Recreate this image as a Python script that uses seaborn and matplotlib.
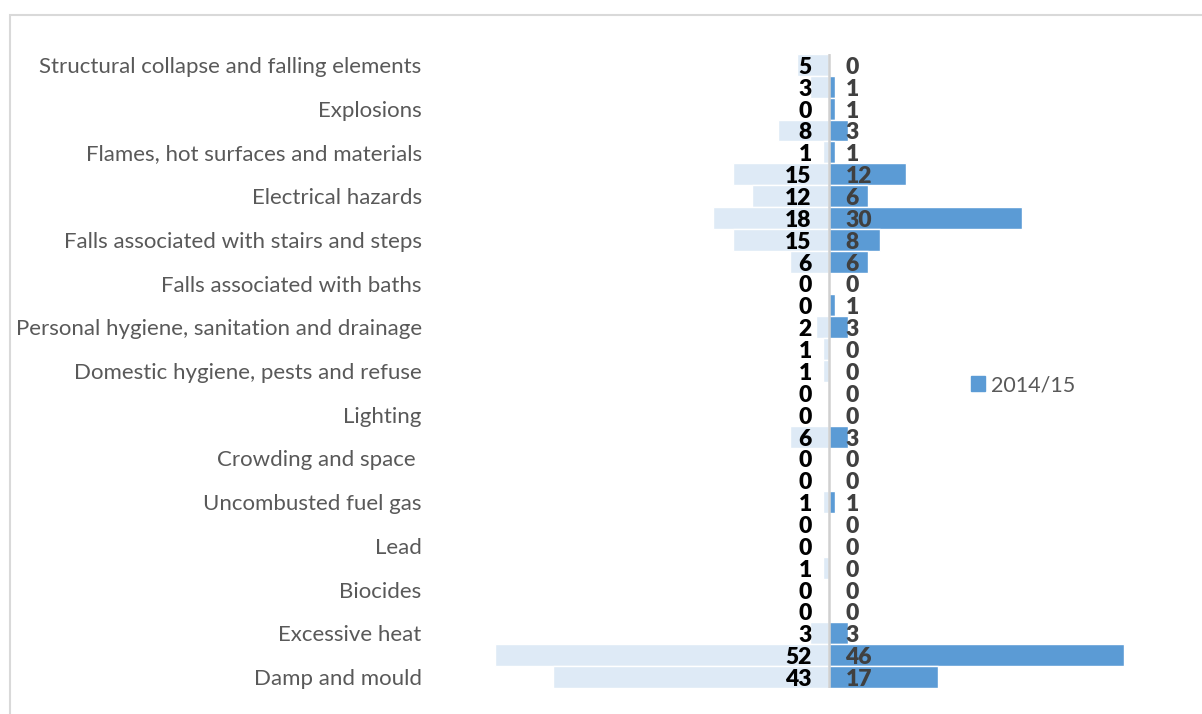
import seaborn as sns
import matplotlib.pyplot as plt
import pandas as pd
from matplotlib.patches import Patch, Rectangle

categories = [
    "Structural collapse and falling elements",
    "Position and operability of amenities",
    "Explosions",
    "Collision and entrapment",
    "Flames, hot surfaces and materials",
    "Fire",
    "Electrical hazards",
    "Falls between levels",
    "Falls associated with stairs and steps",
    "Falls on level surfaces",
    "Falls associated with baths",
    "Water supply",
    "Personal hygiene, sanitation and drainage",
    "Food safety",
    "Domestic hygiene, pests and refuse",
    "Noise",
    "Lighting",
    "Entry by intruders",
    "Crowding and space ",
    "Volatile organic compounds",
    "Uncombusted fuel gas",
    "Radiation",
    "Lead",
    "Carbon monoxide",
    "Biocides",
    "Asbestos",
    "Excessive heat",
    "Excessive cold",
    "Damp and mould",
]
values_prev = [5, 3, 0, 8, 1, 15, 12, 18, 15, 6, 0, 0, 2, 1, 1, 0, 0, 6, 0, 0,
               1, 0, 0, 1, 0, 0, 3, 52, 43]
values_1415 = [0, 1, 1, 3, 1, 12, 6, 30, 8, 6, 0, 1, 3, 0, 0, 0, 0, 3, 0, 0,
               1, 0, 0, 0, 0, 0, 3, 46, 17]

light = "#DEEAF6"
dark = "#5B9BD5"

df = pd.DataFrame({"Hazard": categories,
                   "prev": [-v for v in values_prev],
                   "2014/15": values_1415})

sns.set_style("white")
plt.rcParams["font.family"] = ["Lato", "DejaVu Sans"]

W, H = 1202, 714
fig = plt.figure(figsize=(W / 100, H / 100), dpi=100)
ax = fig.add_axes([430 / W, 1 - 688 / H, (1190 - 430) / W, (688 - 54) / H])

sns.barplot(data=df, y="Hazard", x="prev", order=categories, color=light,
            width=1.0, edgecolor="white", linewidth=1, saturation=1, ax=ax)
sns.barplot(data=df, y="Hazard", x="2014/15", order=categories, color=dark,
            width=1.0, edgecolor="white", linewidth=1, saturation=1, ax=ax)

scale = 6.42
ax.set_xlim(-(829 - 430) / scale, (1190 - 829) / scale)
ax.set_ylim(len(categories) - 0.5, -0.5)
ax.axvline(0, color="#D0D0D0", lw=1.8, zorder=3)

for i, (a, b) in enumerate(zip(values_prev, values_1415)):
    ax.annotate(str(a), xy=(0, i), xytext=(-12.5, -0.3), textcoords="offset points",
                ha="right", va="center_baseline", fontsize=16.5,
                fontweight="heavy", color="black", zorder=4)
    ax.annotate(str(b), xy=(0, i), xytext=(11.8, -0.3), textcoords="offset points",
                ha="left", va="center_baseline", fontsize=16.5,
                fontweight="heavy", color="#404040", zorder=4)

ticks = list(range(0, len(categories), 2))
ax.set_yticks(ticks)
ax.set_yticklabels([categories[t] for t in ticks], fontsize=16,
                   color="#595959")
ax.tick_params(axis="y", length=0, pad=6)
ax.set_xticks([])
ax.set_xlabel("")
ax.set_ylabel("")
for s in ax.spines.values():
    s.set_visible(False)

fig.legend(handles=[Patch(color=dark)], labels=["2014/15"],
           loc="center left", bbox_to_anchor=(952 / W, 1 - 385 / H),
           frameon=False, fontsize=15.5, labelcolor="#595959",
           handlelength=0.65, handleheight=0.65, handletextpad=0.25)

fig.patches.append(Rectangle((10 / W, -0.1), 1.2, (H - 15) / H + 0.1,
                             transform=fig.transFigure, fill=False,
                             edgecolor="#D9D9D9", lw=1.5))

fig.savefig("out.png", dpi=100)
